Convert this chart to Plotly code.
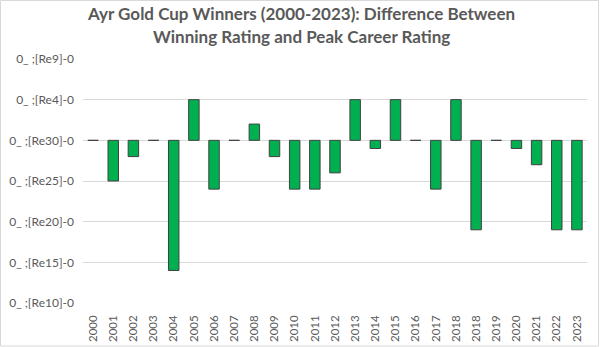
import plotly.graph_objects as go

# Race years (2018 appears twice in the source table)
years = ["2000", "2001", "2002", "2003", "2004", "2005", "2006", "2007", "2008",
         "2009", "2010", "2011", "2012", "2013", "2014", "2015", "2016", "2017",
         "2018", "2018", "2019", "2020", "2021", "2022", "2023"]
# Winning rating minus peak career rating
rating_diff = [0, -5, -2, 0, -16, 5, -6, 0, 2, -2, -6, -6, -4, 5, -1, 5, 0, -6,
               5, -11, 0, -1, -3, -11, -11]

# Axis tick values and their (as-exported) number-format labels
y_tick_vals = [10, 5, 0, -5, -10, -15, -20]
y_tick_text = ["0_ ;[Re9]-0", "0_ ;[Re4]-0", "0_ ;[Re30]-0", "0_ ;[Re25]-0",
               "0_ ;[Re20]-0", "0_ ;[Re15]-0", "0_ ;[Re10]-0"]

title_lines = ["Ayr Gold Cup Winners (2000-2023): Difference Between",
               "Winning Rating and Peak Career Rating"]

x_idx = list(range(len(years)))

fig = go.Figure(go.Bar(
    x=x_idx,
    y=rating_diff,
    width=0.52,
    marker=dict(color="#00B050", line=dict(color="#404040", width=1)),
))

W, H = 600, 347
L, R, T, B = 83, 13, 59, 44
pw, ph = W - L - R, H - T - B

def px_x(v):
    return (v - L) / pw

def px_y(v):
    return (H - B - v) / ph

FONT = "Lato, 'Open Sans', sans-serif"

annotations = [
    dict(text=f"<b>{line}</b>", xref="paper", yref="paper",
         x=px_x(301), y=px_y(cy), xanchor="center", yanchor="middle",
         showarrow=False, font=dict(size=17, color="#595959", family=FONT))
    for line, cy in zip(title_lines, [13.5, 36.5])
]

fig.update_layout(
    width=W, height=H,
    margin=dict(l=L, r=R, t=T, b=B),
    paper_bgcolor="white", plot_bgcolor="white",
    showlegend=False,
    font=dict(family=FONT, color="#595959", size=11.5),
    annotations=annotations,
    xaxis=dict(
        tickmode="array", tickvals=x_idx, ticktext=years, tickangle=-90,
        range=[-0.5, len(years) - 0.5], showgrid=False, zeroline=False,
        showline=False, ticks="", ticklabelstandoff=9, automargin=False,
        tickfont=dict(size=11.5, color="#595959"),
    ),
    yaxis=dict(
        tickmode="array", tickvals=y_tick_vals, ticktext=y_tick_text,
        range=[-20, 10], showgrid=True, gridcolor="#D9D9D9", gridwidth=1,
        zeroline=False, showline=False, ticks="", ticklabelstandoff=8,
        automargin=False, tickfont=dict(size=12, color="#595959"),
    ),
    shapes=[dict(
        type="rect", xref="paper", yref="paper",
        x0=px_x(0.5), x1=px_x(598.5), y0=px_y(346), y1=px_y(0.5),
        line=dict(color="#D9D9D9", width=1), fillcolor="rgba(0,0,0,0)",
        layer="below",
    )],
)

fig.write_html("out.html")
